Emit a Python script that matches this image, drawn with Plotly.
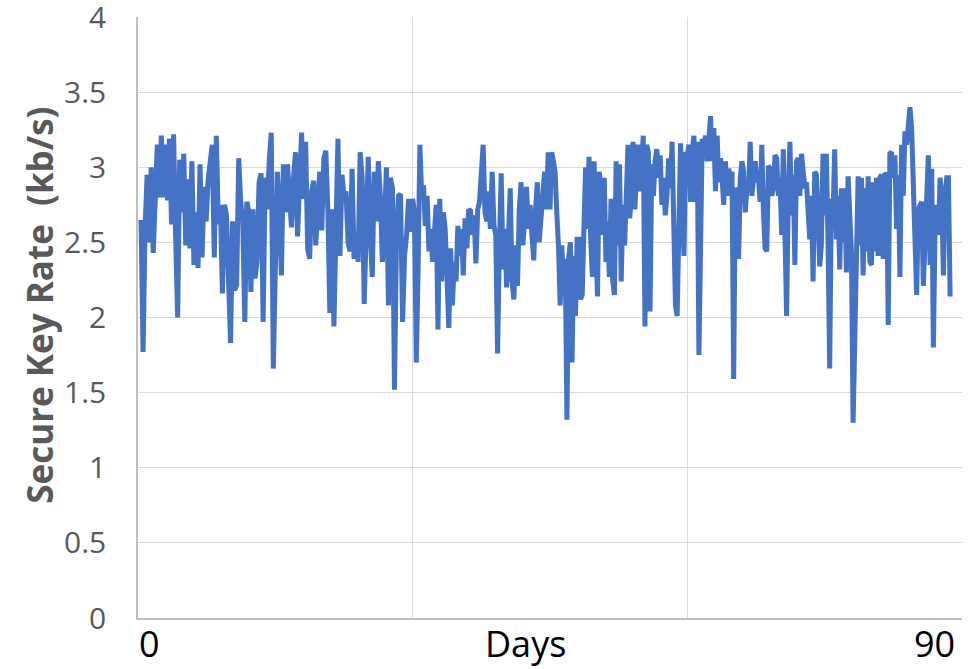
import numpy as np
import plotly.graph_objects as go

# Secure key rate (kb/s) in 15-day blocks
block_0_15 = [2.65, 1.77, 2.6, 2.95, 2.5, 3.0, 2.43, 2.9, 3.15, 2.8, 3.21, 2.8, 3.15, 2.78, 3.19, 2.62,
              3.22, 2.55, 2.0, 3.05, 2.7, 3.09, 2.48, 2.92, 2.46, 3.04, 2.35, 2.7, 2.33, 3.02, 2.4, 2.87,
              2.64, 2.92, 3.04, 3.15, 2.4, 3.21, 2.62, 2.75, 2.16, 2.75, 2.68, 2.3, 1.83, 2.64, 2.18, 2.22,
              3.06, 2.77, 2.64, 1.97, 2.77, 2.7, 2.17, 2.72, 2.26, 2.37, 2.9, 2.96, 1.97, 2.93, 2.72, 3.04,
              3.23, 1.66]
block_15_30 = [2.44, 2.97, 2.7, 2.28, 3.02, 2.7, 3.02, 2.81, 2.6, 2.93, 3.1, 2.54, 2.86, 3.23, 2.79, 3.17,
               2.46, 2.39, 2.84, 2.91, 2.48, 2.81, 2.97, 2.58, 3.06, 3.11, 2.72, 2.03, 2.72, 1.94, 2.68, 3.19,
               2.41, 2.95, 2.81, 2.84, 2.5, 2.44, 2.99, 2.39, 2.57, 2.37, 3.1, 2.93, 2.09, 2.59, 3.07, 2.55,
               2.27, 2.97, 2.64, 3.04, 2.81, 2.37, 2.61, 3.0, 2.08, 2.93, 2.86, 1.52, 2.55, 2.81, 2.82, 1.97,
               2.41, 2.55, 2.79, 2.57]
block_30_45 = [2.79, 2.70, 1.70, 2.32, 3.15, 2.81, 2.88, 2.61, 2.81, 2.44, 2.59, 2.37, 2.57, 2.75, 1.92, 2.79,
               2.24, 2.70, 2.59, 2.10, 1.93, 2.46, 2.08, 2.37, 2.24, 2.61, 2.41, 2.59, 2.28, 2.66, 2.46, 2.72,
               2.71, 2.55, 2.68, 2.36, 2.72, 2.77, 2.97, 3.15, 2.70, 2.64, 2.84, 2.59, 2.97, 2.61, 2.55, 1.76,
               2.48, 2.96, 2.32, 2.59, 2.20, 2.48, 2.86, 2.24, 2.12, 2.48, 2.21, 2.72, 2.90, 2.48, 2.64, 2.87,
               2.59, 2.75, 2.55, 2.38, 2.72, 2.90, 2.50, 2.66, 2.75, 2.97, 2.72, 3.10]
block_45_60 = [2.72, 3.10, 3.04, 2.97, 2.70, 2.48, 2.08, 2.48, 2.15, 2.39, 1.32, 2.39, 2.50, 1.70, 2.41, 2.01,
               2.52, 2.52, 2.12, 2.15, 2.59, 3.0, 2.59, 3.07, 2.52, 2.27, 3.04, 2.55, 2.14, 2.97, 2.86, 2.55,
               2.93, 2.37, 2.64, 2.27, 2.79, 2.24, 2.15, 3.04, 2.48, 3.02, 2.24, 2.75, 2.48, 2.81, 3.15, 2.66,
               2.81, 3.17, 2.72, 2.93, 3.15, 2.84, 3.04, 3.21, 1.94, 3.15, 3.10, 2.04, 3.02, 2.81, 3.04, 3.12,
               2.93, 3.08, 2.75, 2.93, 2.68, 2.81, 3.06, 2.86, 3.17, 2.61, 2.08, 2.01, 2.90, 3.16, 2.81, 2.41,
               3.10]
block_60_75 = [3.08, 3.15, 2.77, 3.12, 3.21, 2.77, 3.17, 1.75, 2.81, 3.19, 3.15, 3.21, 3.04, 3.24, 3.34, 3.04,
               3.26, 2.84, 3.21, 2.90, 3.06, 2.93, 2.75, 3.04, 2.81, 2.99, 2.93, 2.97, 1.59, 2.86, 2.84, 2.39,
               2.93, 3.04, 2.97, 2.70, 2.86, 2.84, 3.17, 2.81, 2.93, 3.04, 2.90, 2.93, 2.77, 3.15, 2.70, 2.46,
               2.44, 3.01, 2.99, 2.81, 2.86, 3.08, 3.06, 2.81, 2.93, 2.55, 3.12, 2.28, 2.01, 2.81, 3.17, 2.68,
               2.95, 2.35, 3.04, 3.06, 2.81, 3.09, 2.93, 2.86, 2.90, 2.75, 2.52, 2.81, 2.24, 2.97, 2.95, 2.68,
               2.34, 2.48, 3.09]
block_75_90 = [2.68, 3.09, 2.52, 1.66, 2.79, 2.68, 3.12, 2.52, 2.81, 2.32, 2.86, 2.50, 2.86, 2.30, 2.94, 2.72,
               2.44, 1.30, 1.95, 2.72, 2.94, 2.48, 2.93, 2.28, 2.86, 2.44, 2.94, 2.37, 2.35, 2.90, 2.44, 2.93,
               2.41, 2.93, 2.95, 2.39, 2.95, 2.96, 1.95, 3.09, 3.10, 2.93, 3.08, 2.59, 2.95, 2.27, 3.15, 2.81,
               3.24, 3.15, 3.35, 3.40, 3.26, 2.81, 2.34, 2.15, 2.72, 2.75, 2.77, 2.21, 2.59, 2.72, 3.08, 2.35,
               2.99, 1.80, 2.59, 2.75, 2.55, 2.93, 2.81, 2.28, 2.81, 2.93, 2.93, 2.14]

blocks = [block_0_15, block_15_30, block_30_45, block_45_60, block_60_75, block_75_90]
block_edges = [0.33, 15, 30, 45, 60, 75, 88.7]

y_ticks = [0, 0.5, 1, 1.5, 2, 2.5, 3, 3.5, 4]
y_tick_labels = ["0", "0.5", "1", "1.5", "2", "2.5", "3", "3.5", "4"]
x_labels = ["0", "Days", "90"]
x_label_days = [1.3, 42.3, 87.0]

days = []
rate = []
for i, b in enumerate(blocks):
    last = i == len(blocks) - 1
    days.extend(np.linspace(block_edges[i], block_edges[i + 1], len(b), endpoint=last).tolist())
    rate.extend(b)

fig = go.Figure()
fig.add_trace(go.Scatter(x=days, y=rate, mode="lines",
                         line=dict(color="#4472C4", width=5), hoverinfo="skip"))

font_family = "Open Sans, Noto Sans, sans-serif"

for lbl, d in zip(x_labels, x_label_days):
    fig.add_annotation(x=d, xref="x", y=-0.043, yref="paper", text=lbl, showarrow=False,
                       xanchor="center", yanchor="middle",
                       font=dict(family=font_family, size=36, color="#000000"))

fig.add_annotation(x=-0.119, xref="paper", y=0.521, yref="paper",
                   text="<b>Secure Key Rate \u00a0(kb/s)</b>", textangle=-90, showarrow=False,
                   xanchor="center", yanchor="middle",
                   font=dict(family=font_family, size=35, color="#595959"))

fig.update_layout(
    width=974, height=669,
    margin=dict(l=138, r=12, t=17, b=51, autoexpand=False),
    paper_bgcolor="white", plot_bgcolor="white",
    showlegend=False,
    font=dict(family=font_family),
    xaxis=dict(range=[0, 90], tickvals=[0, 30, 60, 90], showticklabels=False,
               showgrid=True, gridcolor="#d9d9d9", gridwidth=1, automargin=False,
               showline=True, linecolor="#bfbfbf", linewidth=1.5, zeroline=False, ticks=""),
    yaxis=dict(range=[0, 4], tickvals=y_ticks, ticktext=y_tick_labels,
               showgrid=True, gridcolor="#d9d9d9", gridwidth=1, automargin=False,
               showline=True, linecolor="#bfbfbf", linewidth=1.5, zeroline=False, ticks="",
               ticklabelstandoff=24, ticklabeloverflow="allow",
               tickfont=dict(family=font_family, size=30, color="#595959")),
)

fig.write_html("out.html", config={"displayModeBar": False},
               post_script="document.body.style.margin='0';document.body.style.overflow='hidden';")
